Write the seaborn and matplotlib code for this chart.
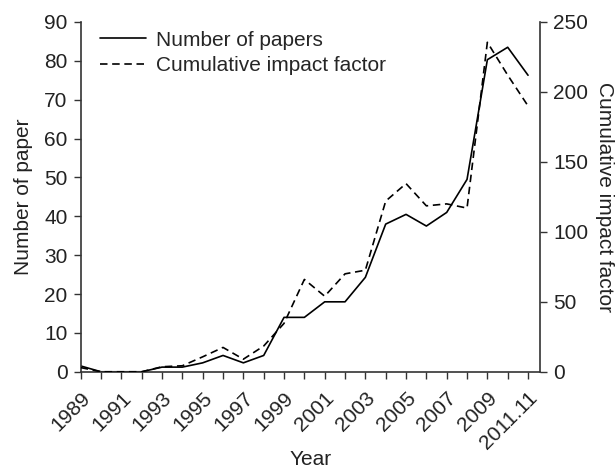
import matplotlib
matplotlib.use("Agg")
import matplotlib.pyplot as plt
import seaborn as sns
import pandas as pd
from matplotlib.lines import Line2D

# values
years = list(range(1989, 2012))
papers = [1.5, 0, 0, 0, 1.2, 1.2, 2.3, 4.2, 2.3, 4.2, 14, 14, 18, 18, 24.3,
          38, 40.5, 37.5, 41, 49.5, 80.3, 83.5, 76.3]
impact = [3, 0, 0, 0, 3.6, 4.3, 10.7, 17.4, 9, 18.4, 34.6, 66, 54, 70, 72.6,
          122, 134.5, 118.6, 120, 117, 235.5, 212, 190]
tick_labels = ["1989", "", "1991", "", "1993", "", "1995", "", "1997", "",
               "1999", "", "2001", "", "2003", "", "2005", "", "2007", "",
               "2009", "", "2011.11"]

df = pd.DataFrame({"Year": years, "Papers": papers, "Impact": impact})

sns.set_style("ticks")
plt.rcParams['font.family'] = ['Liberation Sans', 'DejaVu Sans']

dash = (0, (4.5, 2.8))

fig = plt.figure(figsize=(6.16, 4.73), dpi=100)
ax = fig.add_axes([0.131, 0.214, 0.746, 0.7395])
ax2 = ax.twinx()

sns.lineplot(data=df, x="Year", y="Papers", ax=ax, color="black", linewidth=1.2)
sns.lineplot(data=df, x="Year", y="Impact", ax=ax2, color="black", linewidth=1.2,
             linestyle=dash)

ax.set_xlim(1989, 2011.6)
ax.set_ylim(0, 90)
ax2.set_ylim(0, 250)
ax.set_yticks(range(0, 91, 10))
ax2.set_yticks(range(0, 251, 50))
ax.set_xticks(years)
ax.set_xticklabels(tick_labels, rotation=45, ha="right", rotation_mode="anchor")

for a in (ax, ax2):
    a.spines["top"].set_visible(False)
    for s in a.spines.values():
        s.set_color('#333333')
        s.set_linewidth(1.2)
    a.tick_params(labelsize=15, length=5, width=1, colors='#333333',
                  labelcolor='#222222', pad=4.5)
ax.tick_params(axis="x", pad=7)
ax.spines["right"].set_visible(False)
ax2.spines["left"].set_visible(False)
ax2.spines["bottom"].set_visible(False)

ax.set_xlabel("Year", fontsize=15, color='#222222', labelpad=-2)
ax.set_ylabel("Number of paper", fontsize=15, color='#222222', labelpad=8)
ax2.set_ylabel("Cumulative impact factor", fontsize=15, color='#222222',
               rotation=-90, labelpad=18)

handles = [Line2D([], [], color="black", linewidth=1.2),
           Line2D([], [], color="black", linewidth=1.2, linestyle=dash)]
ax.legend(handles, ["Number of papers", "Cumulative impact factor"],
          loc="upper left", frameon=False, fontsize=15, borderpad=0,
          borderaxespad=0, bbox_to_anchor=(0.042, 0.975), handlelength=2.2,
          handletextpad=0.5, labelspacing=0.3)

fig.savefig("out.png", dpi=100)
